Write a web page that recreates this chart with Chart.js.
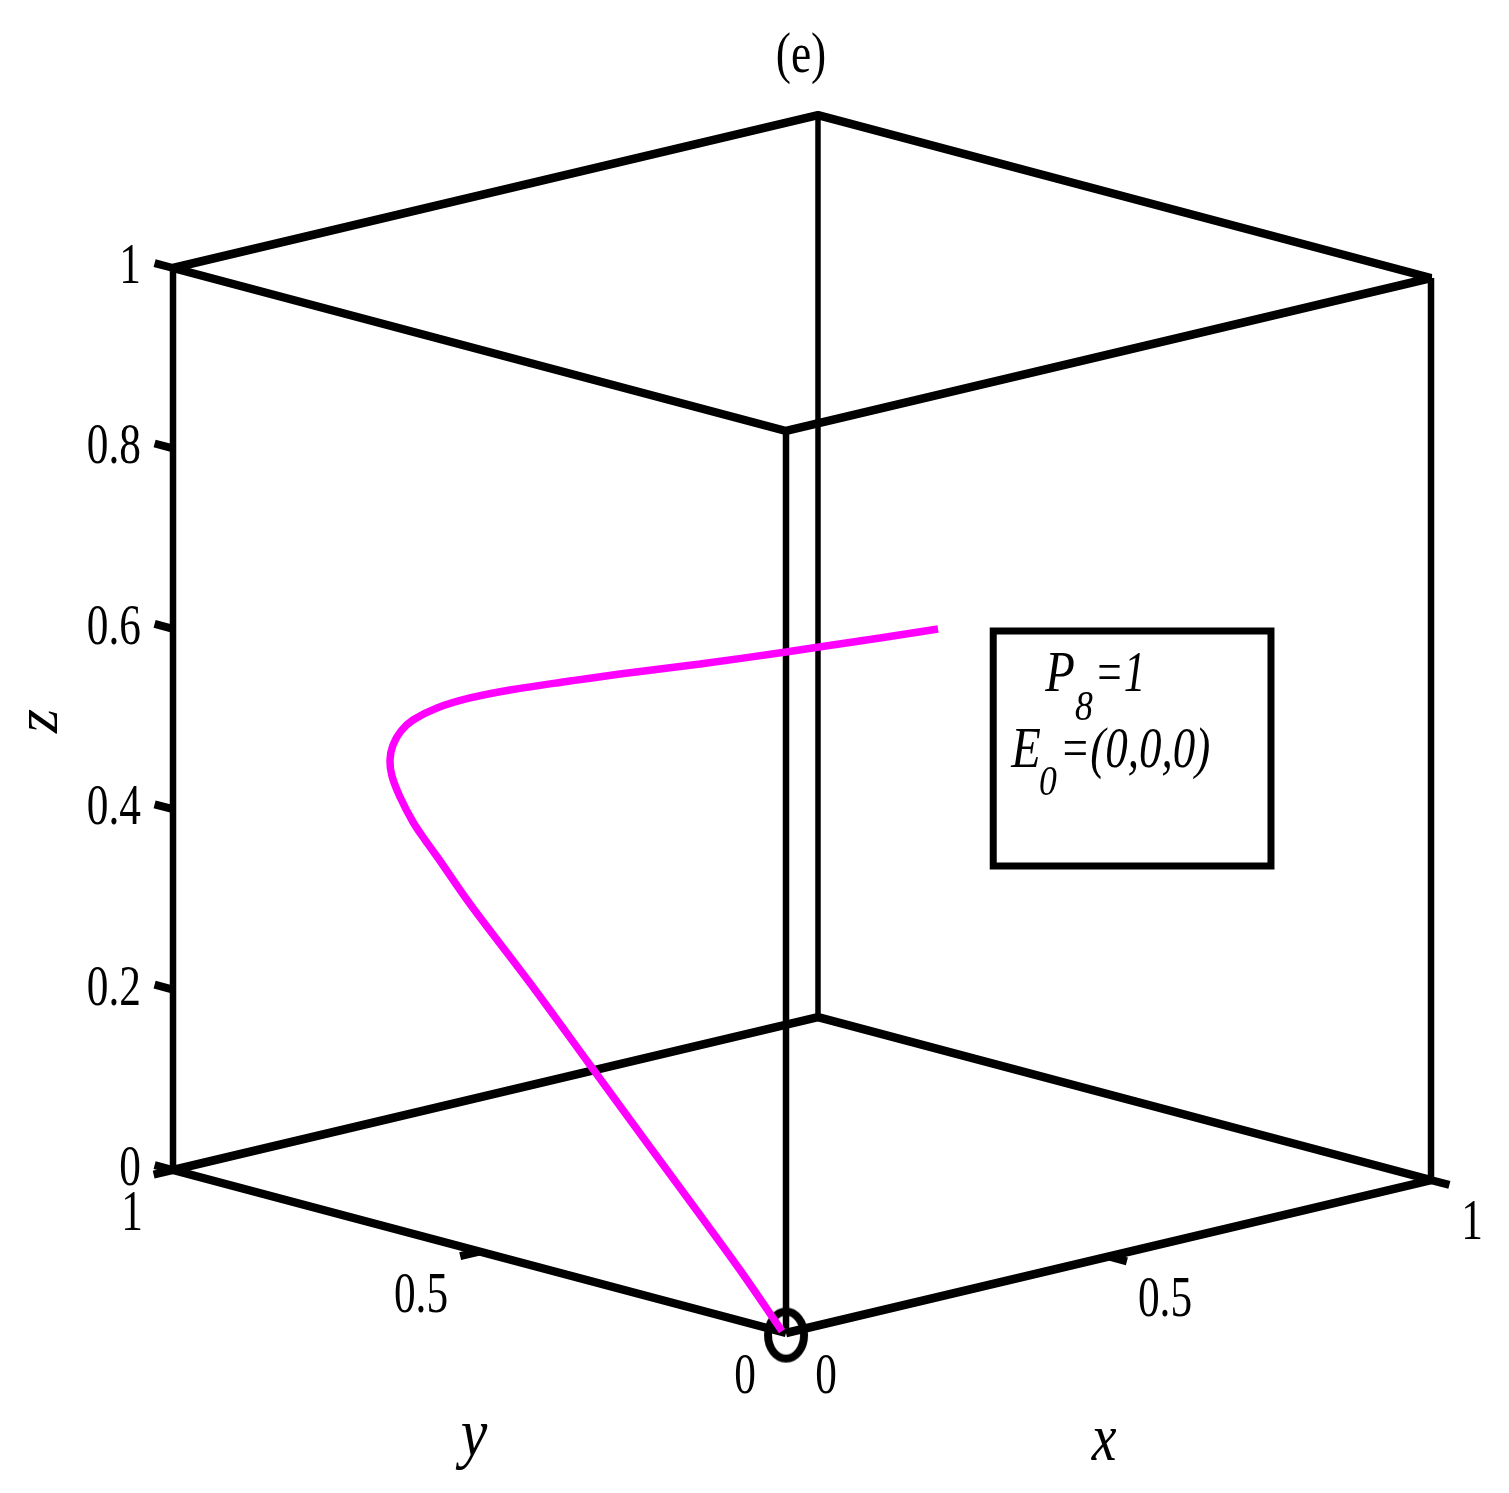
<!DOCTYPE html>
<html>
<head>
<meta charset="utf-8">
<title>(e)</title>
<script src="https://cdn.jsdelivr.net/npm/chart.js@4/dist/chart.umd.min.js"></script>
<style>
    body { margin: 0; background: #ffffff; }
    canvas { display: block; }
</style>
</head>
<body>
<canvas id="box-chart" width="1509" height="1493"></canvas>
<script>
// box edges in plot coordinates, null breaks the line
const topBottomX = [0, 1, 1, 0, 0, null, 0, 1, 1, 0, 0];
const topBottomY = [0, 0, 1, 1, 0, null, 0, 0, 1, 1, 0];
const topBottomZ = [0, 0, 0, 0, 0, null, 1, 1, 1, 1, 1];

const verticalX = [0, 0, null, 1, 1, null, 0, 0];
const verticalY = [1, 1, null, 0, 0, null, 0, 0];
const verticalZ = [0, 1, null, 0, 1, null, 0, 1];

const backEdgeX = [1, 1];
const backEdgeY = [1, 1];
const backEdgeZ = [0, 1];

const zTicks = [0, 0.2, 0.4, 0.6, 0.8, 1];
const zTickLabels = ['0', '0.2', '0.4', '0.6', '0.8', '1'];

// the trajectory as seen on the page (screen plane units)
const curveU = [0.2357, 0.1457, 0.0512, 0, -0.1333, -0.2574, -0.3349, -0.4279, -0.4899, -0.5411,
    -0.5783, -0.5969, -0.6093, -0.6140, -0.6109, -0.5984, -0.5783, -0.5597, -0.5395, -0.4899, -0.3969,
    -0.3039, -0.2109, -0.1333, -0.0713, -0.0062];
const curveV = [0.5998, 0.5898, 0.5798, 0.5743, 0.5610, 0.5499, 0.5421, 0.5322, 0.5233, 0.5122,
    0.4989, 0.4867, 0.4712, 0.4545, 0.4368, 0.4135, 0.3858, 0.3659, 0.3459, 0.2949, 0.2073,
    0.1164, 0.0255, -0.0499, -0.1109, -0.1785];

// legend frame, same units
const frameU = [0.3213, 0.7519, 0.7519, 0.3213, 0.3213, 0.7519];
const frameV = [0.5976, 0.5976, 0.3371, 0.3371, 0.5976, 0.5976];

const startU = [0];
const startV = [-0.183];

const Y_SLANT = 0.9504;
const X_RISE = 0.1696;
const Y_RISE = 0.1807;

function project(x, y, z) {
    if (x === null) return { x: NaN, y: NaN };
    return { x: x - Y_SLANT * y, y: z + X_RISE * x + Y_RISE * (y - 1) };
}

function edgePoints(xs, ys, zs) {
    return xs.map((x, i) => project(x, ys[i], zs[i]));
}

function planePoints(us, vs) {
    return us.map((u, i) => ({ x: u, y: vs[i] }));
}

// tick stubs stick out along the neighbouring axis
function tickPoints() {
    const points = [];
    const stub = (a, b) => points.push(project(a[0], a[1], a[2]), project(b[0], b[1], b[2]), project(null));
    zTicks.forEach(z => stub([0, 1, z], [0, 1.03, z]));
    stub([0, 1, 0], [-0.03, 1, 0]);
    stub([1, 0, 0], [1, -0.03, 0]);
    stub([0.5, 0, 0], [0.5, -0.03, 0]);
    stub([0, 0.5, 0], [-0.03, 0.5, 0]);
    return points;
}

// the start marker is a squeezed ring
function ringImage() {
    const c = document.createElement('canvas');
    c.width = 46;
    c.height = 57;
    const g = c.getContext('2d');
    g.lineWidth = 8;
    g.strokeStyle = '#000000';
    g.beginPath();
    g.ellipse(23, 28.5, 18, 23.5, 0, 0, Math.PI * 2);
    g.stroke();
    return c;
}

const SERIF = '"Liberation Serif", serif';

function drawText(ctx, text, x, y, size, opts = {}) {
    ctx.save();
    ctx.translate(x, y);
    if (opts.rotate) ctx.rotate(opts.rotate);
    ctx.scale(opts.squeeze || 0.76, 1);
    ctx.font = (opts.italic ? 'italic ' : '') + size + 'px ' + SERIF;
    ctx.fillStyle = '#000000';
    ctx.textAlign = opts.align || 'center';
    ctx.textBaseline = 'alphabetic';
    ctx.fillText(text, 0, 0);
    ctx.restore();
}

const textPlugin = {
    id: 'boxText',
    afterDraw(chart) {
        const ctx = chart.ctx;
        const yScale = chart.scales.y;

        drawText(ctx, '(e)', 801, 72, 57, { squeeze: 0.8 });

        zTicks.forEach((z, i) => {
            const py = yScale.getPixelForValue(z);
            drawText(ctx, zTickLabels[i], 141, py + 15, 57, { align: 'right' });
        });

        drawText(ctx, '1', 132, 1230, 57);
        drawText(ctx, '0.5', 421, 1312, 57);
        drawText(ctx, '0', 745, 1393, 57);
        drawText(ctx, '0', 826, 1393, 57);
        drawText(ctx, '0.5', 1165, 1316, 57);
        drawText(ctx, '1', 1472, 1239, 57);

        drawText(ctx, 'y', 474, 1456, 68, { italic: true, squeeze: 0.88 });
        drawText(ctx, 'x', 1104, 1460, 68, { italic: true, squeeze: 0.82 });
        drawText(ctx, 'z', 57, 721, 62, { italic: true, squeeze: 1, rotate: -Math.PI / 2 });

        drawText(ctx, 'P', 1060, 691, 57, { italic: true, squeeze: 0.85 });
        drawText(ctx, '=1', 1120, 691, 57, { italic: true });
        drawText(ctx, '8', 1084, 720, 42, { italic: true, squeeze: 0.85 });
        drawText(ctx, 'E', 1026, 767, 57, { italic: true, squeeze: 0.85 });
        drawText(ctx, '0', 1048, 795, 42, { italic: true, squeeze: 0.85 });
        drawText(ctx, '=(0,0,0)', 1135, 767, 57, { italic: true, squeeze: 0.79 });
    }
};

function lineSet(data, color, width, order) {
    return {
        data: data,
        showLine: true,
        borderColor: color,
        backgroundColor: color,
        borderWidth: width,
        borderJoinStyle: 'bevel',
        pointRadius: 0,
        spanGaps: false,
        clip: false,
        order: order
    };
}

const curveSet = lineSet(planePoints(curveU, curveV), '#ff00ff', 7.5, 0);
curveSet.tension = 0.35;

const frameSet = lineSet(planePoints(frameU, frameV), '#000000', 7, 5);
frameSet.borderJoinStyle = 'miter';

const boxChart = new Chart(document.getElementById('box-chart').getContext('2d'), {
    type: 'scatter',
    data: {
        datasets: [
            curveSet,
            lineSet(edgePoints(topBottomX, topBottomY, topBottomZ), '#000000', 8.5, 1),
            lineSet(edgePoints(verticalX, verticalY, verticalZ), '#000000', 6.5, 2),
            lineSet(edgePoints(backEdgeX, backEdgeY, backEdgeZ), '#000000', 5.5, 3),
            lineSet(tickPoints(), '#000000', 8, 4),
            frameSet,
            {
                data: planePoints(startU, startV),
                pointStyle: ringImage(),
                pointRadius: 23,
                showLine: false,
                clip: false,
                order: 6
            }
        ]
    },
    options: {
        responsive: false,
        animation: false,
        layout: { padding: { left: 173, right: 78, top: 100, bottom: 93 } },
        plugins: {
            legend: { display: false },
            tooltip: { enabled: false }
        },
        scales: {
            x: { type: 'linear', display: false, min: -0.9504, max: 1 },
            y: { type: 'linear', display: false, min: -0.25499, max: 1.18625 }
        }
    },
    plugins: [textPlugin]
});
</script>
</body>
</html>
